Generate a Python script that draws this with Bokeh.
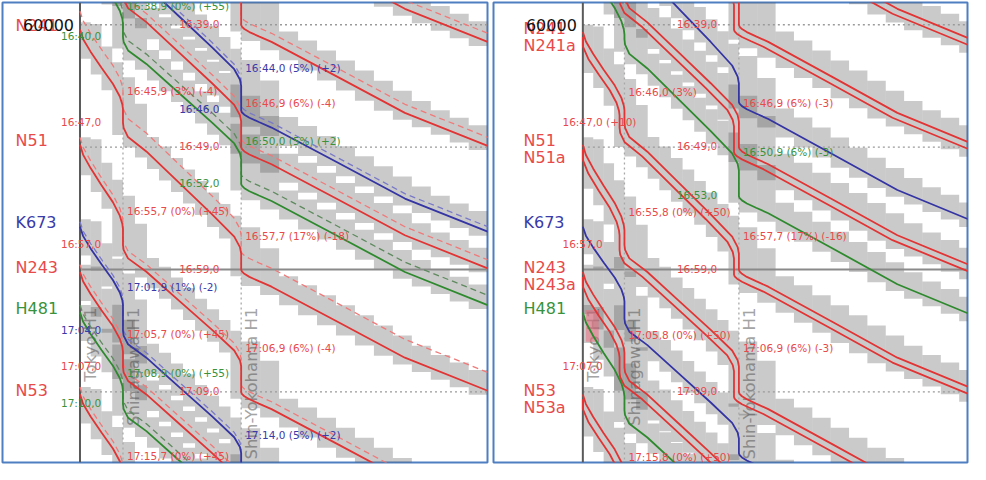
import numpy as np
from bokeh.plotting import figure
from bokeh.models import Range1d, ColumnDataSource
from bokeh.layouts import row
from bokeh.embed import file_html
from bokeh.resources import INLINE
from bokeh.core.properties import value

# ---------------- data ----------------
STATION_NAMES = ["Tokyo H1", "Shinagawa H1", "Shin-Yokohama H1"]
STATION_KM = [0.0, 6.8, 25.5]
GRID_DOTTED_MIN = [39.0, 49.0, 69.0]    # 16:39, 16:49, 17:09
GRID_SOLID_MIN = [59.0]                 # 16:59

BLOCK_KM = [0.0, 1.7, 3.4, 5.1, 6.8, 8.7, 10.6, 12.5, 14.4, 16.3, 18.2, 20.1,
            22.0, 23.8, 25.5, 28.5, 31.5, 34.5, 37.5, 40.5, 43.5, 46.5, 49.5,
            52.5, 55.5, 58.5, 61.5, 64.5, 67.5]

# running profiles (km, share of run time / minutes after departure)
PROF_A_KM = [0.0, 0.5, 1.7, 3.4, 5.2, 6.3, 6.7, 6.8]
PROF_A_FR = [0.0, 0.12, 0.28, 0.48, 0.68, 0.84, 0.94, 1.0]
PROF_B_KM = [6.8, 6.9, 7.6, 10.5, 15.7, 20.9, 24.4, 25.3, 25.5]
PROF_B_FR = [0.0, 0.04, 0.11, 0.22, 0.46, 0.70, 0.87, 0.95, 1.0]
PROF_C_KM = [25.5, 25.6, 26.0, 26.8, 28.3, 30.3, 40.9, 51.4, 64.5, 70.0]
PROF_C_MIN = [0.0, 0.15, 0.35, 0.6, 0.95, 1.4, 4.3, 7.2, 9.9, 11.0]

# timetables, minutes after 16:00
L_NAME = ["", "", "", "", "", "N241", "N51", "K673", "N243", "H481", "N53"]
L_COLOR = ["r", "r", "b", "r", "g", "r", "r", "b", "r", "g", "r"]
L_T_TK = [11.0, 19.0, 25.0, 28.8, 32.4, 39.4, 48.8, 55.5, 59.2, 62.5, 69.2]
L_A_SG = [17.3, 25.5, 31.5, 35.2, 38.9, 45.9, 55.7, 61.9, 65.7, 68.9, 75.7]
L_D_SG = [18.5, 26.6, 33.5, 36.5, 40.0, 47.0, 57.0, 64.0, 67.0, 70.0, 77.0]
L_A_SY = [28.9, 37.0, 44.0, 46.9, 50.0, 57.7, 66.9, 74.0, 77.0, 80.0, 87.0]
L_D_SY = [30.5, 39.0, 46.0, 49.0, 52.0, 59.0, 69.0, 76.0, 79.0, 82.0, 89.0]
L_PLAN_SHIFT = [-0.7, -0.7, -0.4, -0.7, -0.8, -1.5, -0.6, -0.4, -0.6, -0.6, -0.6]

R_NAME = ["", "", "", "", "", "N241", "N51", "K673", "N243", "H481", "N53"]
R_COLOR = ["r", "r", "b", "r", "g", "r", "r", "b", "r", "g", "r"]
R_PAIR = [True, True, False, True, False, True, True, False, True, False, True]
R_T_TK = [11.0, 19.0, 25.0, 28.8, 33.0, 39.6, 48.8, 55.5, 59.2, 62.5, 69.2]
R_A_SG = [17.3, 25.5, 31.5, 35.2, 39.8, 46.0, 55.8, 61.6, 65.8, 69.4, 75.8]
R_D_SG = [18.5, 26.6, 32.5, 36.5, 40.2, 47.0, 57.0, 63.0, 67.0, 70.5, 77.0]
R_A_SY = [28.9, 37.0, 43.8, 46.9, 50.9, 57.7, 66.9, 72.8, 77.0, 80.5, 87.0]
R_D_SY = [30.5, 39.0, 45.3, 49.0, 53.0, 59.0, 69.0, 74.0, 79.0, 82.5, 89.0]
PAIR_KM_LAG = 0.8
PAIR_MIN_LAG = 0.4
CONFLICT_KM = [0.5, 2.6]
CONFLICT_MIN = [62.3, 64.9]

# station time labels
L_SG_ARR = ["16:38,9 (0%) (+55)", "16:45,9 (3%) (-4)", "16:55,7 (0%) (+45)", "17:01,9 (1%) (-2)",
            "17:05,7 (0%) (+45)", "17:08,9 (0%) (+55)", "17:15,7 (0%) (+45)"]
L_SG_ARR_C = ["g", "r", "r", "b", "r", "g", "r"]
L_SG_DEP = ["16:40,0", "16:47,0", "16:57,0", "17:04,0", "17:07,0", "17:10,0"]
L_SG_DEP_C = ["g", "r", "r", "b", "r", "g"]
L_SY_ARR = ["16:44,0 (5%) (+2)", "16:46,9 (6%) (-4)", "16:50,0 (5%) (+2)", "16:57,7 (17%) (-18)",
            "17:06,9 (6%) (-4)", "17:14,0 (5%) (+2)"]
L_SY_ARR_C = ["b", "r", "g", "r", "r", "b"]
L_SY_DEP = ["16:39,0", "16:46,0", "16:49,0", "16:52,0", "16:59,0", "17:09,0"]
L_SY_DEP_C = ["r", "b", "r", "g", "r", "r"]

R_SG_ARR = ["16:46,0 (3%)", "16:55,8 (0%) (+50)", "17:05,8 (0%) (+50)", "17:15,8 (0%) (+50)"]
R_SG_ARR_C = ["r", "r", "r", "r"]
R_SG_DEP = ["16:47,0 (+10)", "16:57,0", "17:07,0"]
R_SG_DEP_C = ["r", "r", "r"]
R_SY_ARR = ["16:46,9 (6%) (-3)", "16:50,9 (6%) (-3)", "16:57,7 (17%) (-16)", "17:06,9 (6%) (-3)"]
R_SY_ARR_C = ["r", "g", "r", "r"]
R_SY_DEP = ["16:39,0", "16:49,0", "16:53,0", "16:59,0", "17:09,0"]
R_SY_DEP_C = ["r", "r", "g", "r", "r"]

CORNER_LABEL = "60000"

# ---------------- styling ----------------
LINE_C = {"r": "#e23434", "b": "#3434a4", "g": "#2f8a2f"}
DASH_C = {"r": "#f07a7a", "b": "#7a7ac8", "g": "#5f8a5f"}
TEXT_C = {"r": "#e84a4a", "b": "#3a3aa8", "g": "#3a923a"}
FONT = "DejaVu Sans"
Y_TOP, Y_BOT = 37.184, 74.763
H = 464


def tparse(s):
    hh, rest = s.split(":")
    return int(hh) * 60 + float(rest[:4].replace(",", ".")) - 960.0


def build_path(ttk, asg, dsg, asy, dsy):
    km = PROF_A_KM + PROF_B_KM + PROF_C_KM
    t = ([ttk + f * (asg - ttk) for f in PROF_A_FR] +
         [dsg + f * (asy - dsg) for f in PROF_B_FR] +
         [dsy + m for m in PROF_C_MIN])
    return np.array(km, float), np.array(t, float)


def t_first(km, t, x):
    if x <= km[0]:
        return t[0]
    i = int(np.argmax(km >= x))
    if km[i] == x:
        return t[i]
    return t[i - 1] + (x - km[i - 1]) / (km[i] - km[i - 1]) * (t[i] - t[i - 1])


def t_last(km, t, x):
    if x >= km[-1]:
        return t[-1]
    i = int(np.where(km <= x)[0][-1])
    if km[i] == x:
        return t[i]
    return t[i] + (x - km[i]) / (km[i + 1] - km[i]) * (t[i + 1] - t[i])


def block_rects(lead, trail):
    L, R, T, B = [], [], [], []
    for k in range(len(BLOCK_KM) - 1):
        x0, x1 = BLOCK_KM[k], BLOCK_KM[k + 1]
        if k > 0:
            start = t_first(lead[0], lead[1], BLOCK_KM[k - 1]) - 0.45
        else:
            start = lead[1][0] - 0.6
        end = t_last(trail[0], trail[1], x1 + 0.4) + 0.25
        L.append(x0); R.append(x1); T.append(start); B.append(end)
    return L, R, T, B


def make_fig(xs, xe, width, mbl, mbr):
    p = figure(width=width, height=H, x_range=Range1d(xs, xe), y_range=Range1d(Y_BOT, Y_TOP),
               output_backend="svg", toolbar_location=None, x_axis_location=None,
               y_axis_location=None, min_border_left=mbl, min_border_right=mbr,
               min_border_top=2, min_border_bottom=2)
    p.grid.visible = False
    p.outline_line_color = "#4f7fc0"
    p.outline_line_width = 2
    p.background_fill_color = "white"
    p.border_fill_color = "white"
    return p


def add_texts(p, xs, ys, texts, colors, size, align="left", baseline="middle", xo=0, yo=0, angle=0.0):
    src = ColumnDataSource(dict(x=list(xs), y=list(ys), text=list(texts), color=list(colors)))
    p.text(x="x", y="y", text="text", source=src, text_color="color", text_font=value(FONT),
           text_font_size=value(size), text_align=align, text_baseline=baseline,
           x_offset=xo, y_offset=yo, angle=angle)


def draw_panel(p, xe, names, colors, ttk, asg, dsg, asy, dsy, pair, plan_shift,
               sg_arr, sg_arr_c, sg_dep, sg_dep_c, sy_arr, sy_arr_c, sy_dep, sy_dep_c,
               name_xo, conflict=None):
    xs = p.x_range.start
    # station names (rotated)
    add_texts(p, STATION_KM, [62.1] * 3, STATION_NAMES, ["#a4a4a4"] * 3, "16.5px",
              align="right", baseline="top", xo=1, angle=np.pi / 2)
    paths = []
    L, R, T, B = [], [], [], []
    for i in range(len(ttk)):
        lead = build_path(ttk[i], asg[i], dsg[i], asy[i], dsy[i])
        trail = lead
        if pair[i]:
            trail = (np.maximum(lead[0] - PAIR_KM_LAG, 0.0), lead[1] + PAIR_MIN_LAG)
        l, r, t, b = block_rects(lead, trail)
        L += l; R += r; T += t; B += b
        paths.append((lead, trail))
    p.quad(left=L, right=R, top=T, bottom=B, fill_color="#505050", fill_alpha=0.3, line_color=None)
    if conflict is not None:
        p.quad(left=[conflict[0][0]], right=[conflict[0][1]], top=[conflict[1][0]],
               bottom=[conflict[1][1]], fill_color="#f07080", fill_alpha=0.55, line_color=None)
    # grid
    n = len(GRID_DOTTED_MIN)
    p.segment(x0=[0.0] * n, y0=GRID_DOTTED_MIN, x1=[xe] * n, y1=GRID_DOTTED_MIN,
              line_color="#9a9a9a", line_width=1.3, line_dash="2 3")
    p.segment(x0=[0.0], y0=GRID_SOLID_MIN, x1=[xe], y1=GRID_SOLID_MIN,
              line_color="#8a8a8a", line_width=2)
    p.segment(x0=STATION_KM[1:], y0=[Y_TOP] * 2, x1=STATION_KM[1:], y1=[Y_BOT] * 2,
              line_color="#a8a8a8", line_width=1.3, line_dash="2 3")
    p.segment(x0=[0.0], y0=[Y_TOP], x1=[0.0], y1=[Y_BOT], line_color="#5a5a5a", line_width=2)
    # planned (dashed) paths
    if plan_shift is not None:
        for i, (lead, trail) in enumerate(paths):
            p.line(lead[0], lead[1] + plan_shift[i], line_color=DASH_C[colors[i]],
                   line_width=1.3, line_dash="6 4")
    # actual paths
    for i, (lead, trail) in enumerate(paths):
        p.line(lead[0], lead[1], line_color=LINE_C[colors[i]], line_width=1.8)
        if pair[i]:
            p.line(trail[0], trail[1], line_color=LINE_C[colors[i]], line_width=1.8)
    # station time labels
    for texts, cols, km, kind in [(sg_arr, sg_arr_c, STATION_KM[1], "arr"),
                                  (sg_dep, sg_dep_c, STATION_KM[1], "dep"),
                                  (sy_arr, sy_arr_c, STATION_KM[2], "arr"),
                                  (sy_dep, sy_dep_c, STATION_KM[2], "dep")]:
        ys = [tparse(s) for s in texts]
        cc = [TEXT_C[c] for c in cols]
        if kind == "arr":
            add_texts(p, [km] * len(ys), ys, texts, cc, "10.5px", xo=4, yo=-18)
        else:
            add_texts(p, [km] * len(ys), ys, texts, cc, "10.5px", xo=-62, yo=-1)
    # train names
    nx, ny, nt, nc = [], [], [], []
    for i in range(len(ttk)):
        if names[i]:
            nx.append(xs); ny.append(ttk[i]); nt.append(names[i]); nc.append(TEXT_C[colors[i]])
    add_texts(p, nx, ny, nt, nc, "16px", xo=name_xo, yo=-4)
    ax, ay, at, ac = [], [], [], []
    for i in range(len(ttk)):
        if names[i] and pair[i]:
            ax.append(xs); ay.append(ttk[i]); at.append(names[i] + "a"); ac.append(TEXT_C[colors[i]])
    if ax:
        add_texts(p, ax, ay, at, ac, "16px", xo=name_xo, yo=13)
    add_texts(p, [0.0], [39.0], [CORNER_LABEL], ["#111111"], "16px", align="right", xo=-6, yo=0)


p1 = make_fig(-12.26, 64.47, 490, 2, 3)
draw_panel(p1, 64.47, L_NAME, L_COLOR, L_T_TK, L_A_SG, L_D_SG, L_A_SY, L_D_SY,
           [False] * len(L_T_TK), L_PLAN_SHIFT,
           L_SG_ARR, L_SG_ARR_C, L_SG_DEP, L_SG_DEP_C, L_SY_ARR, L_SY_ARR_C, L_SY_DEP, L_SY_DEP_C,
           name_xo=13)

p2 = make_fig(-14.6, 62.86, 480, 3, 3)
draw_panel(p2, 62.86, R_NAME, R_COLOR, R_T_TK, R_A_SG, R_D_SG, R_A_SY, R_D_SY,
           R_PAIR, None,
           R_SG_ARR, R_SG_ARR_C, R_SG_DEP, R_SG_DEP_C, R_SY_ARR, R_SY_ARR_C, R_SY_DEP, R_SY_DEP_C,
           name_xo=30, conflict=(CONFLICT_KM, CONFLICT_MIN))

layout = row(p1, p2)
open("out.html", "w").write(file_html(layout, INLINE))
